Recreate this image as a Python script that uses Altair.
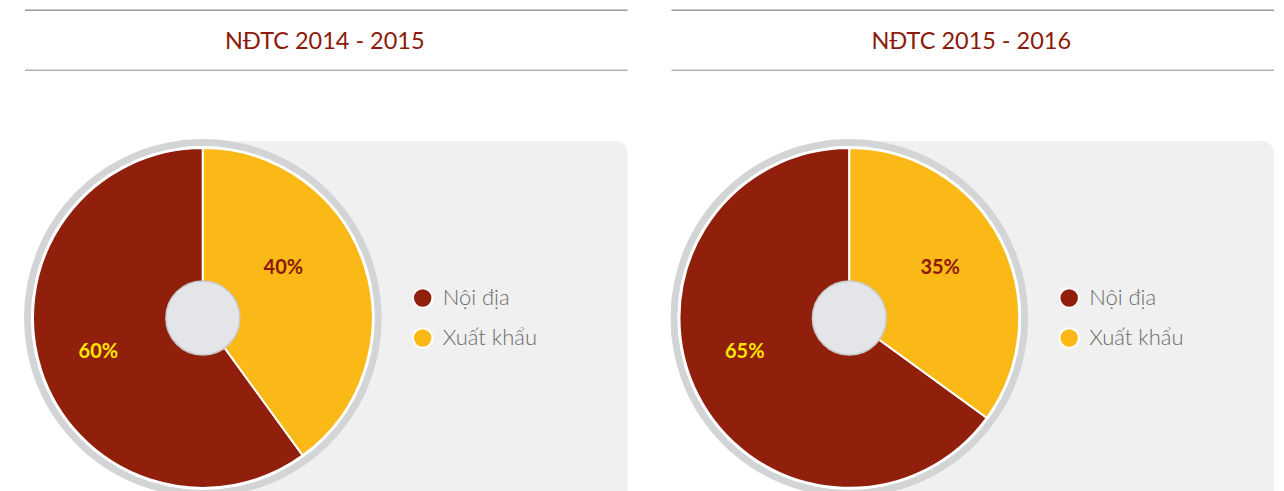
import altair as alt
import pandas as pd

categories = ["Nội địa", "Xuất khẩu"]
share_2014_2015 = [60, 40]
share_2015_2016 = [65, 35]
titles = ["NĐTC 2014 - 2015", "NĐTC 2015 - 2016"]

RED = "#901f0b"
YELLOW = "#fbb917"
CX, CY = 195, 310


def panel(title, shares, label_style):
    df = pd.DataFrame({"cat": categories, "value": shares})
    base = alt.Chart(df).transform_calculate(label="datum.value + '%'")
    one = alt.Data(values=[{"t": title}])

    color = alt.Color("cat:N", scale=alt.Scale(domain=categories, range=[RED, YELLOW]), legend=None)
    theta = alt.Theta("value:Q", stack=True)
    order = alt.Order("cat:N", sort="descending")

    line1 = alt.Chart(one).mark_rule(color="#9a9a9a", strokeWidth=1.5).encode(
        x=alt.value(17), x2=alt.value(620), y=alt.value(2))
    line2 = alt.Chart(one).mark_rule(color="#b0b0b0", strokeWidth=1.5).encode(
        x=alt.value(17), x2=alt.value(620), y=alt.value(62))
    ttl = alt.Chart(one).mark_text(font="Lato", fontSize=23.5, color="#8b1a0a",
                                   align="center", baseline="middle").encode(
        x=alt.value(317), y=alt.value(34), text="t:N")
    bg = alt.Chart(one).mark_rect(color="#f0f0f0", cornerRadius=12).encode(
        x=alt.value(195), x2=alt.value(620), y=alt.value(133), y2=alt.value(520))
    ring = alt.Chart(one).mark_arc(outerRadius=179, innerRadius=172, theta=0, theta2=6.2832,
                                   color="#d3d4d6").encode(x=alt.value(CX), y=alt.value(CY))
    gap = alt.Chart(one).mark_arc(outerRadius=172, innerRadius=0, theta=0, theta2=6.2832,
                                  color="#ffffff").encode(x=alt.value(CX), y=alt.value(CY))
    pie = base.mark_arc(outerRadius=170, stroke="white", strokeWidth=2).encode(
        x=alt.value(CX), y=alt.value(CY), theta=theta, color=color, order=order)
    hole = alt.Chart(one).mark_arc(outerRadius=37, innerRadius=0, theta=0, theta2=6.2832,
                                   color="#e3e5e8", stroke="#c8cacd", strokeWidth=1.5).encode(
        x=alt.value(CX), y=alt.value(CY))

    labels = []
    for c, (toff, rad, col) in label_style.items():
        labels.append(base.mark_text(radius=rad, thetaOffset=toff, font="Lato", fontSize=20,
                                     fontWeight="bold", color=col,
                                     align="center", baseline="middle").encode(
            x=alt.value(CX), y=alt.value(CY), theta=theta, order=order,
            text=alt.condition(alt.datum.cat == c, "label:N", alt.value(""))))

    ly = alt.Y("cat:N", scale=alt.Scale(type="point", domain=categories, range=[290, 330], padding=0), axis=None)
    leg_dot = base.mark_circle(size=380, opacity=1, stroke="white", strokeWidth=2).encode(
        x=alt.value(415), y=ly, color=color)
    leg_txt = base.mark_text(font="Lato", fontWeight=300, fontSize=22, color="#6b6b6b",
                             align="left", baseline="middle").encode(
        x=alt.value(435), y=ly, text="cat:N")

    return alt.layer(line1, line2, ttl, bg, ring, gap, pie, hole, *labels, leg_dot, leg_txt).properties(
        width=622, height=483)


left = panel(titles[0], share_2014_2015, {
    "Xuất khẩu": (-0.244, 95, "#8b1a0a"),
    "Nội địa": (0.0, 110, "#ffe600"),
})
right = panel(titles[1], share_2015_2016, {
    "Xuất khẩu": (-0.035, 104, "#8b1a0a"),
    "Nội địa": (0.157, 110, "#ffe600"),
})

chart = alt.hconcat(left, right, spacing=25).properties(padding=0, background="white").configure_view(stroke=None)
chart.save("out.html", embed_options={"renderer": "svg", "actions": False})
